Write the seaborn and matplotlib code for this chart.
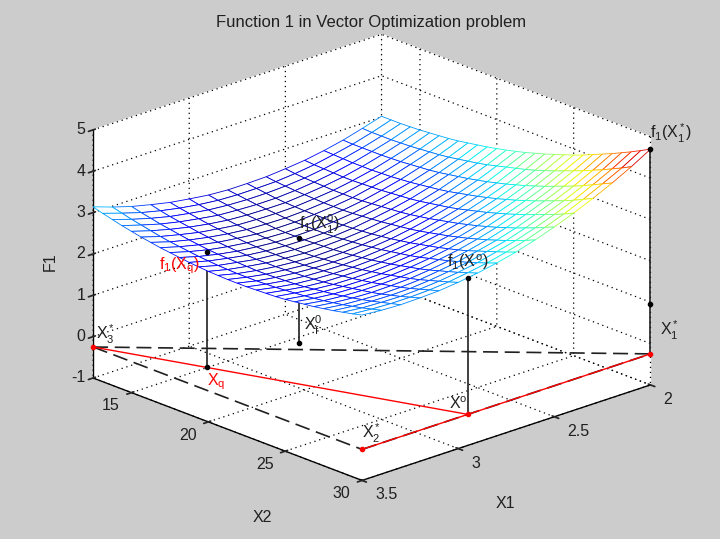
import numpy as np
import matplotlib
matplotlib.use("Agg")
import matplotlib.pyplot as plt
import seaborn as sns
from matplotlib import colors
from mpl_toolkits.mplot3d import proj3d

# ---------------- data ----------------
x1_vals = [2.0, 2.1, 2.2, 2.3, 2.4, 2.5, 2.6, 2.7, 2.8, 2.9, 3.0, 3.1, 3.2, 3.3, 3.4, 3.5]
x2_vals = [12.5, 13.125, 13.75, 14.375, 15.0, 15.625, 16.25, 16.875, 17.5, 18.125,
           18.75, 19.375, 20.0, 20.625, 21.25, 21.875, 22.5, 23.125, 23.75, 24.375,
           25.0, 25.625, 26.25, 26.875, 27.5, 28.125, 28.75, 29.375, 30.0]
# F1 values, one row per X1 value, one column per X2 value
f1_grid = [
    [3.02, 3.02, 3.02, 3.03, 3.04, 3.06, 3.08, 3.10, 3.13, 3.17, 3.21, 3.25, 3.30, 3.35, 3.41,
     3.47, 3.54, 3.61, 3.69, 3.77, 3.85, 3.94, 4.04, 4.14, 4.24, 4.35, 4.46, 4.58, 4.70],
    [2.88, 2.87, 2.87, 2.87, 2.88, 2.89, 2.91, 2.93, 2.95, 2.98, 3.02, 3.06, 3.10, 3.15, 3.21,
     3.27, 3.33, 3.39, 3.46, 3.54, 3.62, 3.71, 3.80, 3.89, 3.99, 4.09, 4.20, 4.31, 4.43],
    [2.75, 2.74, 2.74, 2.74, 2.74, 2.75, 2.76, 2.78, 2.80, 2.82, 2.85, 2.89, 2.93, 2.97, 3.02,
     3.07, 3.13, 3.19, 3.26, 3.33, 3.41, 3.49, 3.58, 3.67, 3.76, 3.86, 3.97, 4.08, 4.19],
    [2.65, 2.64, 2.63, 2.62, 2.62, 2.62, 2.63, 2.64, 2.66, 2.68, 2.71, 2.74, 2.77, 2.81, 2.86,
     2.91, 2.96, 3.02, 3.08, 3.15, 3.22, 3.30, 3.38, 3.47, 3.56, 3.65, 3.75, 3.86, 3.97],
    [2.57, 2.55, 2.54, 2.53, 2.52, 2.52, 2.53, 2.54, 2.55, 2.57, 2.59, 2.61, 2.64, 2.68, 2.72,
     2.76, 2.81, 2.87, 2.93, 2.99, 3.06, 3.13, 3.21, 3.29, 3.38, 3.47, 3.56, 3.66, 3.77],
    [2.52, 2.49, 2.47, 2.46, 2.45, 2.44, 2.44, 2.44, 2.45, 2.47, 2.49, 2.51, 2.53, 2.56, 2.60,
     2.64, 2.69, 2.74, 2.79, 2.85, 2.91, 2.98, 3.05, 3.13, 3.21, 3.30, 3.39, 3.49, 3.59],
    [2.48, 2.45, 2.43, 2.41, 2.40, 2.39, 2.38, 2.38, 2.38, 2.39, 2.41, 2.43, 2.45, 2.48, 2.51,
     2.54, 2.58, 2.63, 2.68, 2.73, 2.79, 2.85, 2.92, 2.99, 3.07, 3.15, 3.24, 3.33, 3.43],
    [2.47, 2.44, 2.41, 2.38, 2.36, 2.35, 2.34, 2.34, 2.34, 2.34, 2.35, 2.36, 2.38, 2.40, 2.43,
     2.46, 2.50, 2.54, 2.59, 2.64, 2.69, 2.75, 2.81, 2.88, 2.96, 3.04, 3.12, 3.20, 3.29],
    [2.47, 2.44, 2.41, 2.38, 2.36, 2.34, 2.32, 2.31, 2.31, 2.31, 2.31, 2.32, 2.34, 2.36, 2.38,
     2.41, 2.44, 2.48, 2.52, 2.56, 2.61, 2.67, 2.73, 2.79, 2.86, 2.93, 3.01, 3.09, 3.18],
    [2.50, 2.46, 2.43, 2.40, 2.37, 2.35, 2.33, 2.31, 2.30, 2.30, 2.30, 2.31, 2.32, 2.33, 2.35,
     2.37, 2.40, 2.43, 2.47, 2.51, 2.56, 2.61, 2.66, 2.72, 2.79, 2.86, 2.93, 3.01, 3.09],
    [2.56, 2.51, 2.47, 2.43, 2.40, 2.37, 2.35, 2.33, 2.32, 2.31, 2.31, 2.31, 2.31, 2.32, 2.34,
     2.36, 2.38, 2.41, 2.44, 2.48, 2.52, 2.57, 2.62, 2.67, 2.73, 2.80, 2.87, 2.94, 3.02],
    [2.63, 2.58, 2.54, 2.50, 2.46, 2.43, 2.40, 2.38, 2.36, 2.35, 2.34, 2.34, 2.34, 2.34, 2.35,
     2.37, 2.39, 2.41, 2.44, 2.47, 2.51, 2.55, 2.60, 2.65, 2.70, 2.76, 2.83, 2.90, 2.97],
    [2.73, 2.67, 2.62, 2.58, 2.54, 2.50, 2.47, 2.44, 2.42, 2.40, 2.39, 2.38, 2.38, 2.38, 2.39,
     2.40, 2.41, 2.43, 2.45, 2.48, 2.52, 2.56, 2.60, 2.64, 2.69, 2.75, 2.81, 2.88, 2.95],
    [2.84, 2.78, 2.73, 2.68, 2.64, 2.60, 2.56, 2.53, 2.50, 2.48, 2.47, 2.46, 2.45, 2.44, 2.44,
     2.45, 2.46, 2.47, 2.49, 2.52, 2.55, 2.58, 2.62, 2.66, 2.71, 2.76, 2.82, 2.88, 2.94],
    [2.98, 2.92, 2.86, 2.81, 2.76, 2.71, 2.67, 2.64, 2.61, 2.58, 2.56, 2.54, 2.53, 2.52, 2.52,
     2.52, 2.53, 2.54, 2.56, 2.58, 2.60, 2.63, 2.66, 2.70, 2.74, 2.79, 2.84, 2.90, 2.96],
    [3.14, 3.07, 3.01, 2.95, 2.90, 2.85, 2.81, 2.77, 2.74, 2.71, 2.68, 2.66, 2.64, 2.63, 2.62,
     2.62, 2.62, 2.63, 2.64, 2.65, 2.67, 2.70, 2.73, 2.76, 2.80, 2.84, 2.89, 2.94, 3.00],
]

# special points: (X1, X2) in the decision plane and their F1 values
pt_names = ["X1*", "X2*", "X3*", "Xo", "Xq", "Xf0"]
pt_x1 = [2.0, 3.5, 3.5, 2.95, 3.33, 2.9]
pt_x2 = [30.0, 30.0, 12.5, 30.0, 17.8, 18.4]
pt_f1 = [4.70, None, None, 3.05, 2.53, 2.30]
plane_z = -0.25          # level of the decision plane drawn in the chart
x1star_mid_dot = 0.95    # extra dot on the X1* stem

x1_ticks = [2, 2.5, 3, 3.5]
x2_ticks = [15, 20, 25, 30]
z_ticks = [-1, 0, 1, 2, 3, 4, 5]
title = "Function 1 in Vector Optimization problem"
x1_name, x2_name, z_name = "X1", "X2", "F1"

# ---------------- style ----------------
sns.set_theme(style="white")
plt.rcParams["font.family"] = ["Liberation Sans", "DejaVu Sans"]
plt.rcParams["mathtext.fontset"] = "custom"
plt.rcParams["mathtext.rm"] = "Liberation Sans"
plt.rcParams["mathtext.it"] = "Liberation Sans:italic"
plt.rcParams["mathtext.bf"] = "Liberation Sans:bold"
plt.rcParams["axes.linewidth"] = 1.0
BG = "#cccccc"
TXT = "#202020"
FS = 11.5
FS_ANN = 11.5

fig = plt.figure(figsize=(7.2, 5.39), dpi=100, facecolor=BG)
# large square 3D axes so that nothing is clipped; zoom sets the scale
ax = fig.add_axes([-0.0257, -0.2016, 1.0556, 1.41], projection="3d")
ax.set_proj_type("ortho")
ax.computed_zorder = False
ax.set_facecolor((0, 0, 0, 0))
ax.patch.set_alpha(0)
ax.view_init(elev=20.8, azim=47)
ax.set_box_aspect((1, 1, 0.673), zoom=0.789)

XMIN, XMAX = 2, 3.5
YMIN, YMAX = 12.5, 30
ZMIN, ZMAX = -1, 5
ax.set_xlim(XMIN, XMAX)
ax.set_ylim(YMIN, YMAX)
ax.set_zlim(ZMIN, ZMAX)

for axis in (ax.xaxis, ax.yaxis, ax.zaxis):
    axis.set_pane_color((1, 1, 1, 1))
    axis.pane.set_edgecolor("white")
    axis._axinfo["grid"].update({"color": "black", "linewidth": 0.9,
                                 "linestyle": (0, (1, 3))})
    axis._axinfo["tick"]["color"] = "black"
    axis.line.set_color("black")

ax.set_xticks(x1_ticks)
ax.set_yticks(x2_ticks)
ax.set_zticks(z_ticks)
ax.tick_params(axis="both", which="both", labelsize=0, labelcolor=(0, 0, 0, 0))
ax.tick_params(axis="z", labelsize=0, labelcolor=(0, 0, 0, 0))
ax.set_xticklabels([""] * len(x1_ticks))
ax.set_yticklabels([""] * len(x2_ticks))
ax.set_zticklabels([""] * len(z_ticks))

# ---------------- mesh surface ----------------
X1g, X2g = np.meshgrid(np.array(x1_vals), np.array(x2_vals), indexing="ij")
Zg = np.array(f1_grid)
norm = colors.Normalize(vmin=Zg.min(), vmax=Zg.max())
cmap = plt.get_cmap("jet")
surf = ax.plot_surface(X1g, X2g, Zg, rstride=1, cstride=1, color="white",
                       shade=False, linewidth=0.6, antialiased=True, zorder=3)
zc = 0.25 * (Zg[:-1, :-1] + Zg[1:, :-1] + Zg[:-1, 1:] + Zg[1:, 1:])
surf.set_edgecolor(cmap(norm(zc.ravel())))

# ---------------- decision plane lines ----------------
P = {n: (a, b) for n, a, b in zip(pt_names, pt_x1, pt_x2)}
F = {n: f for n, f in zip(pt_names, pt_f1)}

def seg(p, q, **kw):
    ax.plot([P[p][0], P[q][0]], [P[p][1], P[q][1]], [plane_z, plane_z], **kw)

dash = dict(color="#202020", lw=1.2, ls=(0, (9, 4)), zorder=2)
seg("X3*", "X1*", **dash)
seg("X3*", "X2*", **dash)
seg("X2*", "X1*", **dash)
seg("X2*", "X1*", color="red", lw=1.0, zorder=2.1)
seg("X3*", "Xo", color="red", lw=1.0, zorder=2.1)

# vertical stems
for n in ["X1*", "Xo", "Xq", "Xf0"]:
    ax.plot([P[n][0]] * 2, [P[n][1]] * 2, [plane_z, F[n]], color="#202020",
            lw=1.2, zorder=2)

# dots
for n in ["X1*", "X2*", "X3*", "Xo"]:
    ax.plot([P[n][0]], [P[n][1]], [plane_z], "o", color="red", ms=3, zorder=4)
for n in ["Xq", "Xf0"]:
    ax.plot([P[n][0]], [P[n][1]], [plane_z], "o", color="black", ms=3, zorder=4)
for n in ["X1*", "Xo", "Xq", "Xf0"]:
    ax.plot([P[n][0]], [P[n][1]], [F[n]], "o", color="black", ms=3, zorder=4)
ax.plot([P["X1*"][0]], [P["X1*"][1]], [x1star_mid_dot], "o", color="black", ms=3,
        zorder=4)

# ---------------- texts (projected 3D anchors, drawn as 2D figure texts) ----------------
fig.canvas.draw()
M = ax.get_proj()

def fig_xy(x, y, z):
    px, py, _ = proj3d.proj_transform(x, y, z, M)
    disp = ax.transData.transform((px, py))
    return fig.transFigure.inverted().transform(disp)

def text3(x, y, z, s, **kw):
    kw.setdefault("color", TXT)
    kw.setdefault("fontsize", FS)
    fx, fy = fig_xy(x, y, z)
    fig.text(fx, fy, s, **kw)

for t in x1_ticks:
    text3(t, YMAX + 0.85, ZMIN - 0.23, f"{t:g}", ha="left", va="center")
for t in x2_ticks:
    text3(XMAX + 0.06, t, ZMIN - 0.23, f"{t:g}", ha="right", va="center")
for t in z_ticks:
    text3(XMAX + 0.022, YMIN - 0.24, t, f"{t:g}", ha="right", va="center")

def lab(n, z, s, dx1=0.0, dx2=0.0, **kw):
    text3(P[n][0] + dx1, P[n][1] + dx2, z, s, fontsize=FS_ANN, **kw)

lab("X1*", F["X1*"] + 0.1, r"$\mathrm{f_1(X_1^*)}$", ha="left", va="bottom")
lab("Xo", F["Xo"] + 0.15, r"$\mathrm{f_1(X^{\,o})}$", ha="center", va="bottom")
lab("Xf0", F["Xf0"] + 0.05, r"$\mathrm{f_1(X_1^0)}$", ha="left", va="bottom")
lab("Xq", F["Xq"] - 0.15, r"$\mathrm{f_1(X_q)}$", ha="right", va="top", color="red",
    dx2=-0.5)
lab("X3*", plane_z + 0.05, r"$\mathrm{X_3^*}$", ha="left", va="bottom", dx2=0.2)
lab("X1*", plane_z + 0.2, r"$\mathrm{X_1^*}$", ha="left", va="bottom", dx1=-0.05)
lab("X2*", plane_z + 0.1, r"$\mathrm{X_2^*}$", ha="left", va="bottom")
lab("Xo", plane_z + 0.05, r"$\mathrm{X^o}$", ha="right", va="bottom")
lab("Xq", plane_z - 0.1, r"$\mathrm{X_q}$", ha="left", va="top", color="red")
lab("Xf0", plane_z + 0.2, r"$\mathrm{X_f^0}$", ha="left", va="bottom", dx2=0.3)

fig.text(505 / 720, 1 - 503 / 539, x1_name, ha="center", va="center", fontsize=FS,
         color=TXT)
fig.text(262 / 720, 1 - 518 / 539, x2_name, ha="center", va="center", fontsize=FS,
         color=TXT)
fig.text(50 / 720, 1 - 262 / 539, z_name, ha="center", va="center", fontsize=FS,
         color=TXT, rotation=90)
fig.text(371 / 720, 1 - 22 / 539, title, ha="center", va="center", fontsize=12,
         color=TXT)

fig.savefig("out.png", dpi=100, facecolor=BG)
